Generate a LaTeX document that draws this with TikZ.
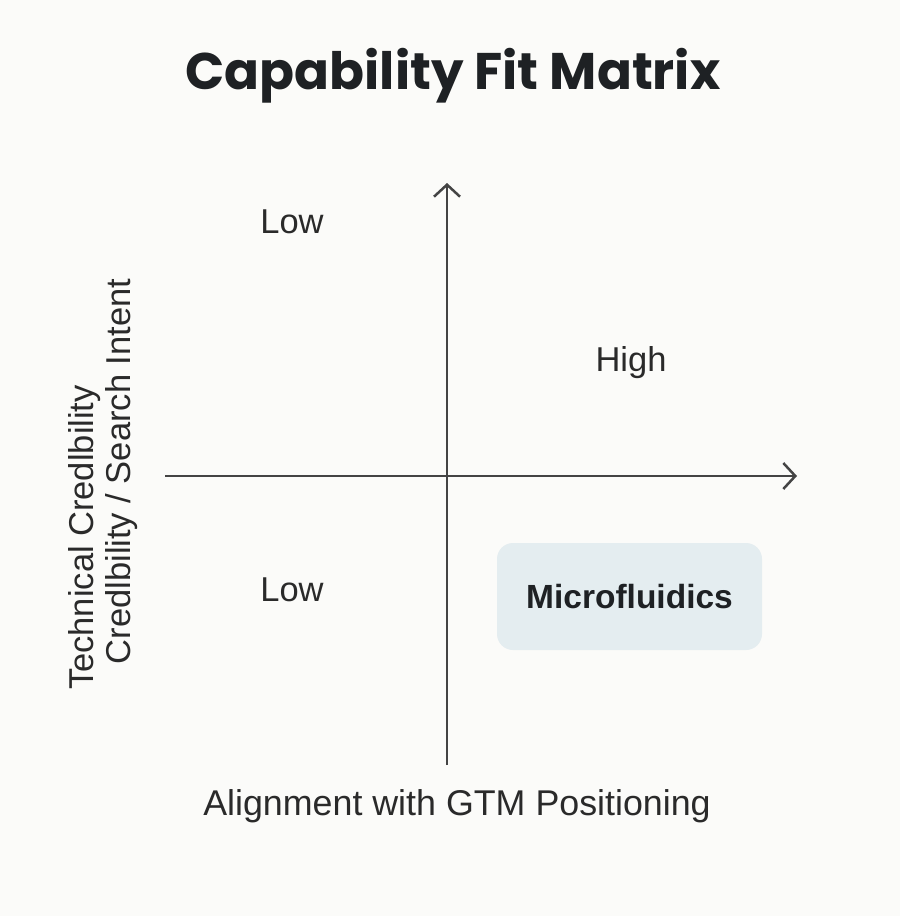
\documentclass[tikz,border=0pt]{standalone}
\usepackage{fontspec}
\setmainfont{Liberation Sans}
\newfontfamily\titlefont{Poppins}
\usetikzlibrary{arrows.meta}
\definecolor{bgc}{HTML}{FBFBF9}
\definecolor{axisc}{HTML}{444444}
\definecolor{textc}{HTML}{2A2A2A}
\definecolor{boxc}{HTML}{E4EDF0}
\definecolor{titlec}{HTML}{1E2124}
\tikzset{
  axisline/.style={draw=axisc, line width=2.5pt, -{Straight Barb[length=12pt,width=26pt,line width=2.5pt]}},
  quadlabel/.style={text=textc, font=\fontsize{34.5}{40}\selectfont, inner sep=0pt},
  axislabel/.style={text=textc, font=\fontsize{34.5}{40}\selectfont, inner sep=0pt},
  itembox/.style={fill=boxc, rounded corners=16pt, minimum width=265pt, minimum height=107pt, inner sep=0pt, text=titlec, font=\fontsize{33.5}{38}\selectfont\bfseries},
}
\begin{document}
\begin{tikzpicture}[x=1pt,y=1pt]
\fill[bgc] (0,0) rectangle (900,-916);
\useasboundingbox (0,0) rectangle (900,-916);
\node[text=titlec, font=\titlefont\fontsize{51.5}{60}\selectfont\bfseries, inner sep=0pt] (title) at (453,-76) {Capability Fit Matrix};
\coordinate (vbot) at (447,-765);
\coordinate (vtop) at (447,-183);
\coordinate (hleft) at (165,-476);
\coordinate (hright) at (797,-476);
\draw[axisline] (vbot) -- (vtop);
\draw[axisline] (hleft) -- (hright);
\node[quadlabel] (lowtop) at (292,-222) {Low};
\node[quadlabel] (high) at (631,-363) {High};
\node[quadlabel] (lowbot) at (292,-590) {Low};
\node[itembox] (micro) at (629.5,-596.5) {Microfluidics};
\node[axislabel, rotate=90] (ylab1) at (85,-537.5) {Technical Credlbility};
\node[axislabel, rotate=90] (ylab2) at (122,-471.5) {Credlbility / Search Intent};
\node[axislabel, font=\fontsize{35.8}{40}\selectfont] (xlab) at (457,-806) {Alignment with GTM Positioning};
\end{tikzpicture}
\end{document}
